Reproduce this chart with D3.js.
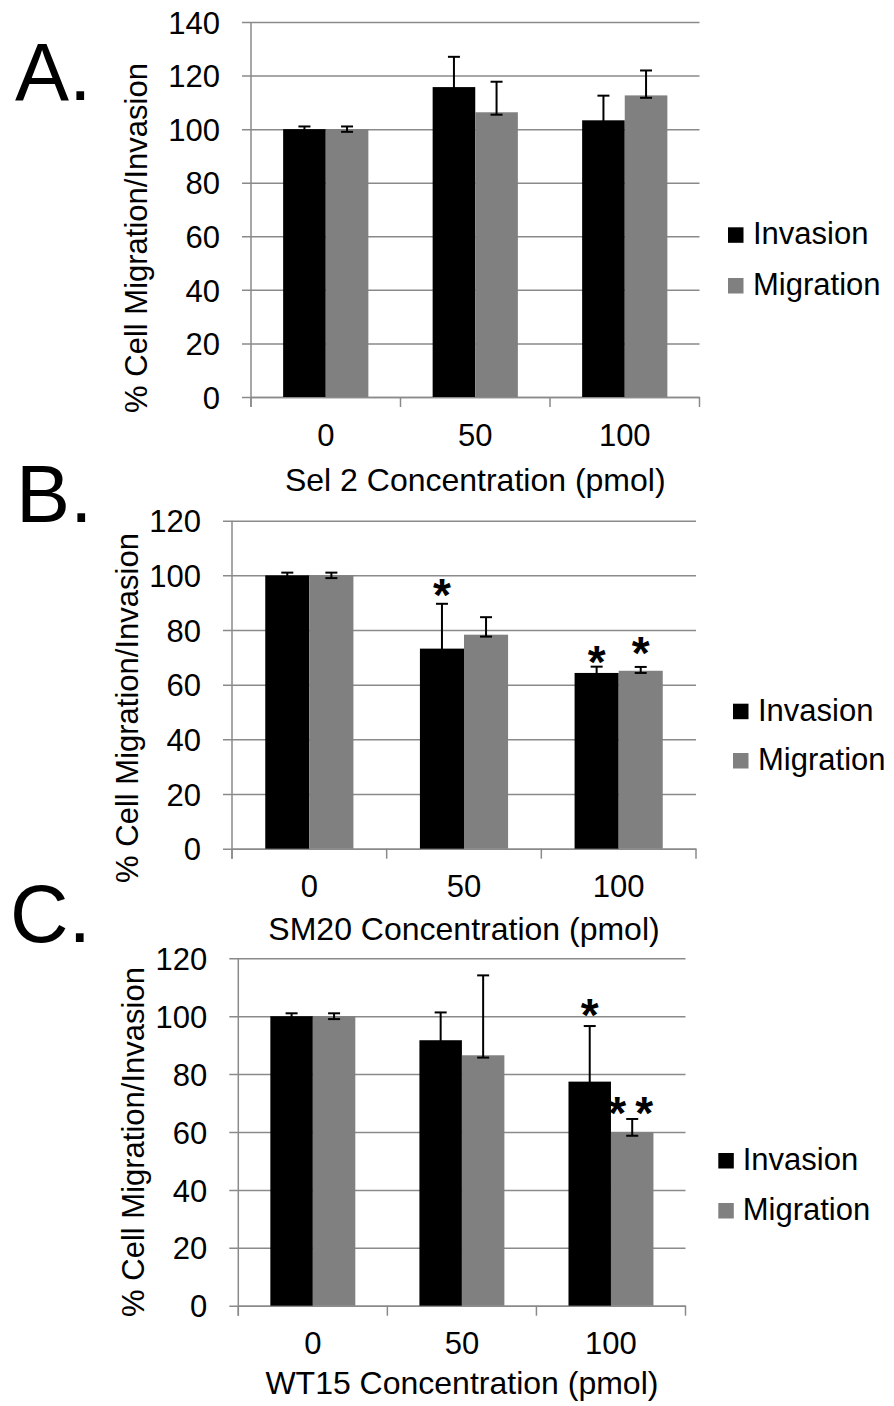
<!DOCTYPE html>
<html>
<head>
<meta charset="utf-8">
<script src="https://cdn.jsdelivr.net/npm/d3@7"></script>
<style>
  body { margin: 0; background: #fff; }
  svg { display: block; font-family: "Liberation Sans", Arial, sans-serif; }
</style>
</head>
<body>
<svg id="fig" width="894" height="1406"></svg>
<script>
// data
const categories = ["0", "50", "100"];
const seriesNames = ["Invasion", "Migration"];
const seriesColors = ["#000000", "#808080"];

const ticksA = [0, 20, 40, 60, 80, 100, 120, 140];
const ticksBC = [0, 20, 40, 60, 80, 100, 120];

// panel A - Sel 2
const aInvasion = [100, 115.7, 103.3];
const aMigration = [100, 106.3, 112.6];
const aInvasionHi = [101, 127.0, 112.5];
const aMigrationHi = [101, 117.7, 121.9];
const aInvasionLo = [99, 114.7, 102.3];
const aMigrationLo = [99, 105.4, 111.7];
const aStars = [];

// panel B - SM20
const bInvasion = [100, 73.2, 64.3];
const bMigration = [100, 78.3, 65.1];
const bInvasionHi = [101, 89.6, 66.6];
const bMigrationHi = [101, 84.7, 66.5];
const bInvasionLo = [99, 72.2, 63.3];
const bMigrationLo = [99, 77.6, 64.3];
const bStars = [
    { cat: "50", series: 0, text: "*", at: 96.6 },
    { cat: "100", series: 0, text: "*", at: 72.2 },
    { cat: "100", series: 1, text: "*", at: 75.4 }
];

// panel C - WT15
const cInvasion = [100, 91.7, 77.4];
const cMigration = [100, 86.5, 59.9];
const cInvasionHi = [101, 101.3, 96.6];
const cMigrationHi = [101, 114.1, 64.5];
const cInvasionLo = [99, 90.7, 76.4];
const cMigrationLo = [99, 85.7, 58.7];
const cStars = [
    { cat: "100", series: 0, text: "*", at: 103.9 },
    { cat: "100", series: 1, text: "**", at: 70.2 }
];

const panels = [
    { letter: "A.", title: "Sel 2 Concentration (pmol)", yMax: 140, ticks: ticksA,
      values: [aInvasion, aMigration], hi: [aInvasionHi, aMigrationHi], lo: [aInvasionLo, aMigrationLo], stars: aStars,
      box: { x0: 251, x1: 699.5, y0: 22, y1: 397 }, letterPos: [15, 100], ytitle: [146.5, 238], titleDy: 93.7,
      legend: { sq: 728, tx: 753, rows: [244.3, 295] } },
    { letter: "B.", title: "SM20 Concentration (pmol)", yMax: 120, ticks: ticksBC,
      values: [bInvasion, bMigration], hi: [bInvasionHi, bMigrationHi], lo: [bInvasionLo, bMigrationLo], stars: bStars,
      box: { x0: 232, x1: 696, y0: 520.7, y1: 848.7 }, letterPos: [16, 521.7], ytitle: [138, 708], titleDy: 91,
      legend: { sq: 733, tx: 758, rows: [720.7, 770] } },
    { letter: "C.", title: "WT15 Concentration (pmol)", yMax: 120, ticks: ticksBC,
      values: [cInvasion, cMigration], hi: [cInvasionHi, cMigrationHi], lo: [cInvasionLo, cMigrationLo], stars: cStars,
      box: { x0: 238.3, x1: 685.5, y0: 958.3, y1: 1305.7 }, letterPos: [10, 942], ytitle: [143.5, 1142], titleDy: 88.6,
      legend: { sq: 718.3, tx: 742.7, rows: [1170, 1220] } }
];

const svg = d3.select("#fig");
const gridColor = "#8a8a8a";
const fs = 31;
const starSize = 46;

panels.forEach(p => drawPanel(p));

function drawPanel(p) {
    const b = p.box;
    const x = d3.scaleBand().domain(categories).range([b.x0, b.x1])
        .paddingInner(0.43).paddingOuter(0.215);
    const xs = d3.scaleBand().domain([0, 1]).range([0, x.bandwidth()]);
    const y = d3.scaleLinear().domain([0, p.yMax]).range([b.y1, b.y0]);

    // gridlines + y labels
    const yAxis = svg.append("g")
        .attr("transform", `translate(${b.x0},0)`)
        .call(d3.axisLeft(y).tickValues(p.ticks).tickSize(9).tickPadding(22));
    yAxis.select(".domain").remove();
    yAxis.selectAll(".tick line")
        .attr("x2", b.x1 - b.x0)
        .attr("x1", -9)
        .attr("stroke", gridColor)
        .attr("stroke-width", 1.5);
    yAxis.selectAll(".tick text")
        .attr("font-size", fs)
        .attr("font-family", "Liberation Sans, Arial, sans-serif")
        .attr("fill", "#000")
        .attr("dy", "0.36em");

    // y axis line
    svg.append("line")
        .attr("x1", b.x0).attr("x2", b.x0)
        .attr("y1", b.y0).attr("y2", b.y1 + 10)
        .attr("stroke", gridColor).attr("stroke-width", 1.5);

    // x axis: category labels
    const xAxis = svg.append("g")
        .attr("transform", `translate(0,${b.y1})`)
        .call(d3.axisBottom(x).tickSize(0).tickPadding(0));
    xAxis.select(".domain").attr("stroke", gridColor).attr("stroke-width", 1.5);
    xAxis.selectAll(".tick text")
        .attr("font-size", fs)
        .attr("font-family", "Liberation Sans, Arial, sans-serif")
        .attr("fill", "#000")
        .attr("y", 48.7)
        .attr("dy", null);

    // boundary tick marks between categories
    const bounds = d3.range(categories.length + 1).map(i => b.x0 + i * x.step());
    svg.append("g").selectAll("line")
        .data(bounds)
        .join("line")
        .attr("x1", d => d).attr("x2", d => d)
        .attr("y1", b.y1).attr("y2", b.y1 + 10)
        .attr("stroke", gridColor).attr("stroke-width", 1.5);

    // bars
    const rows = [];
    categories.forEach((c, i) => {
        [0, 1].forEach(s => rows.push({ c, s, v: p.values[s][i], hi: p.hi[s][i], lo: p.lo[s][i] }));
    });
    svg.append("g").selectAll("rect")
        .data(rows)
        .join("rect")
        .attr("x", d => x(d.c) + xs(d.s))
        .attr("width", xs.bandwidth())
        .attr("y", d => y(d.v))
        .attr("height", d => y(0) - y(d.v))
        .attr("fill", d => seriesColors[d.s]);

    // error bars
    const eb = svg.append("g").attr("stroke", "#000").attr("stroke-width", 2);
    const cx = d => x(d.c) + xs(d.s) + xs.bandwidth() / 2;
    rows.forEach(d => {
        const mx = cx(d);
        eb.append("line").attr("x1", mx).attr("x2", mx).attr("y1", y(d.lo)).attr("y2", y(d.hi));
        eb.append("line").attr("x1", mx - 6).attr("x2", mx + 6).attr("y1", y(d.hi)).attr("y2", y(d.hi));
        eb.append("line").attr("x1", mx - 6).attr("x2", mx + 6).attr("y1", y(d.lo)).attr("y2", y(d.lo));
    });

    // significance stars
    svg.append("g").selectAll("text")
        .data(p.stars)
        .join("text")
        .attr("x", d => x(d.cat) + xs(d.series) + xs.bandwidth() / 2)
        .attr("y", d => y(d.at) + 0.57 * starSize)
        .attr("text-anchor", "middle")
        .attr("font-size", starSize)
        .attr("font-weight", "bold")
        .attr("letter-spacing", d => d.text.length > 1 ? 9 : 0)
        .attr("dx", d => d.text.length > 1 ? 3 : 0)
        .text(d => d.text);

    // x title
    svg.append("text")
        .attr("x", (b.x0 + b.x1) / 2)
        .attr("y", b.y1 + p.titleDy)
        .attr("text-anchor", "middle")
        .attr("font-size", 32)
        .text(p.title);

    // y title
    svg.append("text")
        .attr("transform", `translate(${p.ytitle[0]},${p.ytitle[1]}) rotate(-90)`)
        .attr("text-anchor", "middle")
        .attr("font-size", fs)
        .text("% Cell Migration/Invasion");

    // panel letter
    svg.append("text")
        .attr("x", p.letterPos[0])
        .attr("y", p.letterPos[1])
        .attr("font-size", 81)
        .text(p.letter);

    // legend
    const lg = svg.append("g").selectAll("g")
        .data(seriesNames)
        .join("g");
    lg.append("rect")
        .attr("x", p.legend.sq)
        .attr("y", (d, i) => p.legend.rows[i] - 17)
        .attr("width", 15.5).attr("height", 15.5)
        .attr("fill", (d, i) => seriesColors[i]);
    lg.append("text")
        .attr("x", p.legend.tx)
        .attr("y", (d, i) => p.legend.rows[i])
        .attr("font-size", fs)
        .text(d => d);
}
</script>
</body>
</html>
